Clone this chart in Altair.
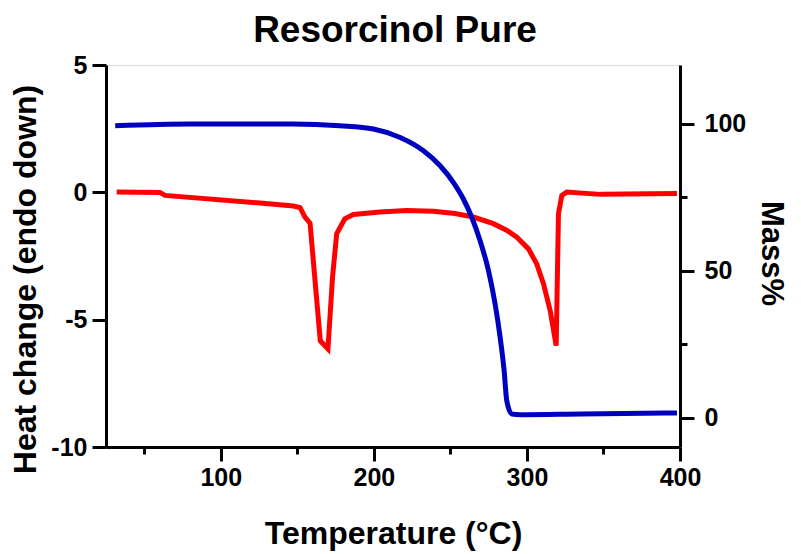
import altair as alt
import pandas as pd

TITLE = "Resorcinol Pure"

# DSC (heat flow) trace, left axis
dsc_temp = [32, 60.3, 63.6, 125.7, 147.4, 151.8, 155, 158.3, 165, 170, 173,
            175.7, 181, 186.6, 204, 221.5, 238.9, 253, 265, 278.1, 287, 293.4,
            301, 306.4, 310.8, 315.2, 319.1, 320.6, 322.8, 326, 348, 398]
dsc_heat = [0.01, -0.01, -0.12, -0.42, -0.54, -0.6, -0.97, -1.21, -5.83, -6.15,
            -3.33, -1.63, -1.04, -0.87, -0.77, -0.71, -0.74, -0.83, -0.97, -1.23,
            -1.5, -1.76, -2.22, -2.81, -3.59, -4.65, -6.02, -0.84, -0.12, 0.01,
            -0.08, -0.05]

# TGA (mass) trace, right axis
tga_temp = [31, 80, 147, 177.9, 199.7, 217.2, 232.4, 243.3, 252, 258.5, 264,
            269.4, 274.9, 279.2, 282.5, 285.1, 286.8, 290.1, 295.6, 335, 398]
tga_mass = [99.3, 99.9, 99.9, 99.3, 98.2, 95.3, 90.8, 85.7, 80.0, 74.4, 68.1,
            60.2, 50.0, 38.7, 27.3, 16.0, 5.8, 1.25, 1.0, 1.25, 1.6]

x_ticks = [50, 100, 150, 200, 250, 300, 350, 400]
left_ticks = [-10, -5, 0, 5]
right_ticks = [0, 25, 50, 75, 100]

dsc = pd.DataFrame({"T": dsc_temp, "H": dsc_heat})
tga = pd.DataFrame({"T": tga_temp, "M": tga_mass})
title_df = pd.DataFrame({"t": [TITLE]})

FONT = "Liberation Sans"

x_enc = alt.X(
    "T:Q",
    scale=alt.Scale(domain=[25, 400], nice=False, zero=False),
    axis=alt.Axis(
        values=x_ticks,
        labelExpr="datum.value % 100 === 0 ? '' + datum.value : ''",
        title="Temperature (°C)",
        titleFontSize=32, titleFont=FONT, titleFontWeight="bold", titleColor="black",
        titleBaseline="alphabetic", titleY=96,
        labelFontSize=25, labelFont=FONT, labelFontWeight="bold", labelColor="black",
        labelPadding=4,
        tickSize={"condition": {"test": "datum.value % 100 !== 0", "value": 7}, "value": 14},
        tickWidth=3, tickColor="black", domainWidth=3, domainColor="black",
        grid=False, labelFlush=False, labelOverlap=False,
    ),
)

red = alt.Chart(dsc).mark_line(color="#ff0000", strokeWidth=5, clip=True).encode(
    x=x_enc,
    y=alt.Y(
        "H:Q",
        scale=alt.Scale(domain=[-10, 5], nice=False, zero=False),
        axis=alt.Axis(
            values=left_ticks, orient="left",
            labelExpr="'' + datum.value",
            title="Heat change (endo down)",
            titleFontSize=32, titleFont=FONT, titleFontWeight="bold", titleColor="black",
            titleX=-81, titleY=214, titleBaseline="middle", titleAngle=270,
            titleAlign="center",
            labelFontSize=25, labelFont=FONT, labelFontWeight="bold", labelColor="black",
            labelPadding=5, tickSize=14, tickWidth=3, tickColor="black",
            domainWidth=3, domainColor="black", grid=False, labelFlush=False,
        ),
    ),
)

blue = alt.Chart(tga).mark_line(color="#0000c0", strokeWidth=5, clip=True,
                                 interpolate="monotone").encode(
    x=alt.X("T:Q", scale=alt.Scale(domain=[25, 400], nice=False, zero=False)),
    y=alt.Y(
        "M:Q",
        scale=alt.Scale(domain=[-10, 120], nice=False, zero=False),
        axis=alt.Axis(
            values=right_ticks, orient="right",
            labelExpr="datum.value % 50 === 0 ? '' + datum.value : ''",
            title="Mass%",
            titleFontSize=31, titleFont=FONT, titleFontWeight="bold", titleColor="black",
            titleX=90, titleY=188, titleBaseline="middle", titleAngle=90,
            titleAlign="center",
            labelFontSize=25, labelFont=FONT, labelFontWeight="bold", labelColor="black",
            labelPadding=10,
            tickSize={"condition": {"test": "datum.value % 50 !== 0", "value": 7}, "value": 14},
            tickWidth=3, tickColor="black",
            domainWidth=3, domainColor="black", grid=False, labelFlush=False,
        ),
    ),
)

title = alt.Chart(title_df).mark_text(
    font=FONT, fontSize=37, fontWeight="bold", color="black",
    align="center", baseline="alphabetic", clip=False,
).encode(x=alt.value(289), y=alt.value(-23), text="t:N")

chart = (
    alt.layer(red, blue, title)
    .resolve_scale(y="independent")
    .properties(
        width=574, height=382,
        autosize=alt.AutoSizeParams(type="none"),
        padding={"left": 106, "top": 65, "right": 121, "bottom": 107},
    )
    .configure_view(stroke="black", strokeWidth=3)
    .configure(background="white")
)

chart.save("out.html", embed_options={"renderer": "svg", "actions": False})
